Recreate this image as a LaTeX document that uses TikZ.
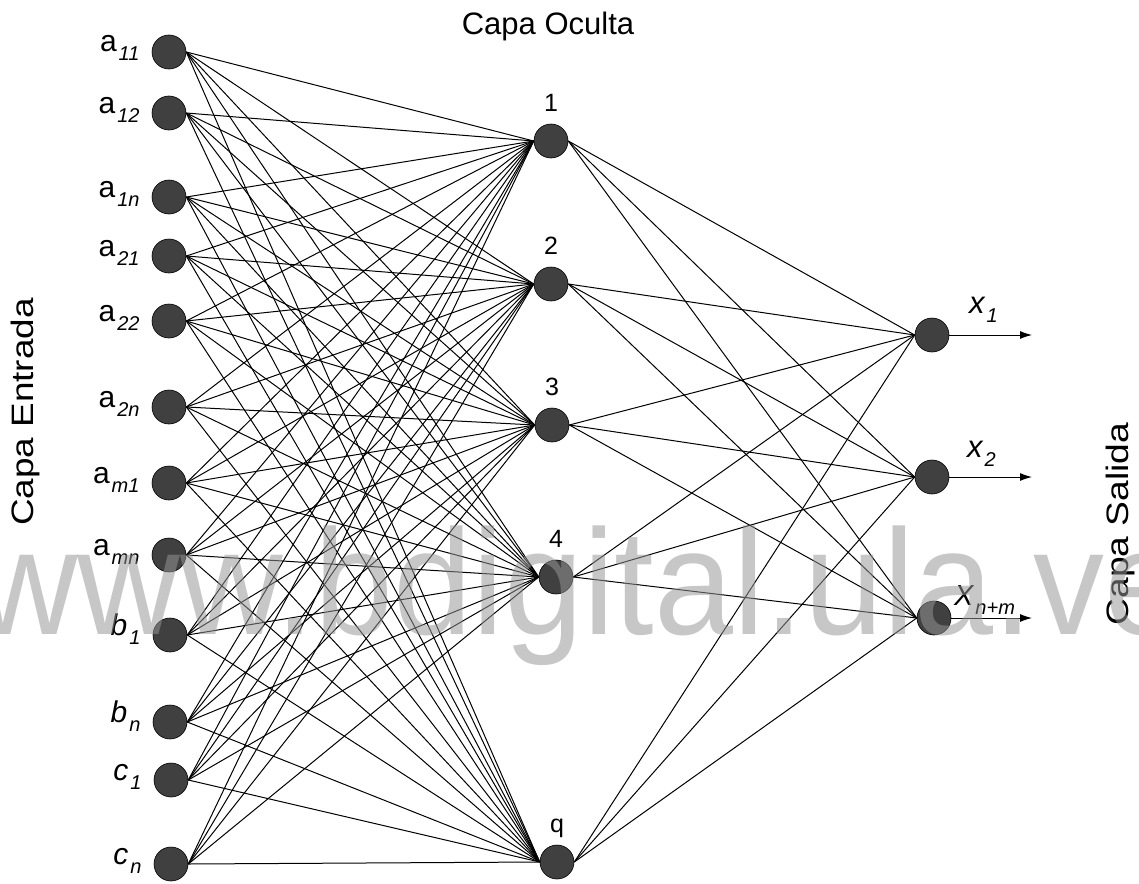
\documentclass[tikz,border=0pt]{standalone}
\usepackage{fontspec}
\setmainfont{Liberation Sans}
\usetikzlibrary{arrows.meta}
\definecolor{NeuronClr}{rgb}{0.25,0.25,0.25}
\definecolor{MarkClr}{rgb}{0.59,0.59,0.59}
\newcommand{\lsub}[1]{\kern2pt\raisebox{-9pt}{\fontsize{20}{20}\selectfont\itshape #1}}
\newcommand{\osub}[1]{\kern1pt\raisebox{-9pt}{\fontsize{20}{20}\selectfont\itshape #1}}

\begin{document}
\begin{tikzpicture}[x=1pt,y=-1pt,
  neuron/.style={circle,fill=NeuronClr,draw=black,line width=0.6pt,minimum size=34pt,inner sep=0pt},
  inlabel/.style={label={[anchor=base east,label distance=12pt,inner sep=0pt,font=\fontsize{30}{34}\selectfont]west:#1}},
  hidlabel/.style={label={[anchor=base,label distance=12pt,inner sep=0pt,font=\fontsize{25}{30}\selectfont]north:#1}},
  edge/.style={line width=1pt,black},
  outarrow/.style={line width=1pt,-{Latex[length=12pt,width=8pt]}},
  layertitle/.style={font=\fontsize{31}{36}\selectfont,anchor=base}]
\useasboundingbox (0,0) rectangle (1139,883);

% capa de entrada
\node[neuron,inlabel={a\lsub{11}}] (a11) at (169,52) {};
\node[neuron,inlabel={a\lsub{12}}] (a12) at (169,113) {};
\node[neuron,inlabel={a\lsub{1n}}] (a1n) at (169,197) {};
\node[neuron,inlabel={a\lsub{21}}] (a21) at (169,256) {};
\node[neuron,inlabel={a\lsub{22}}] (a22) at (169,321) {};
\node[neuron,inlabel={a\lsub{2n}}] (a2n) at (169,407) {};
\node[neuron,inlabel={a\lsub{m1}}] (am1) at (169,483) {};
\node[neuron,inlabel={a\lsub{mn}}] (amn) at (169,555) {};
\node[neuron,inlabel={\textit{b}\lsub{1}}] (b1) at (170,635) {};
\node[neuron,inlabel={\textit{b}\lsub{n}}] (bn) at (170,722) {};
\node[neuron,inlabel={\textit{c}\lsub{1}}] (c1) at (171,780) {};
\node[neuron,inlabel={\textit{c}\lsub{n}}] (cn) at (171,864) {};

% capa oculta
\node[neuron,hidlabel=1] (h1) at (551,141) {};
\node[neuron,hidlabel=2] (h2) at (551,284) {};
\node[neuron,hidlabel=3] (h3) at (552,425) {};
\node[neuron,hidlabel=4] (h4) at (556,577) {};
\node[neuron,hidlabel=q] (hq) at (557,862) {};

% capa de salida
\node[neuron] (o1) at (932,335) {};
\node[neuron] (o2) at (932,477) {};
\node[neuron] (o3) at (934,618) {};
\coordinate (e1) at (1032,335);
\coordinate (e2) at (1032,477);
\coordinate (e3) at (1032,618);

\foreach \i in {a11,a12,a1n,a21,a22,a2n,am1,amn,b1,bn,c1,cn}
  \foreach \j in {h1,h2,h3,h4,hq}
    \draw[edge] (\i.east) -- (\j.west);
\foreach \j in {h1,h2,h3,h4,hq}
  \foreach \k in {o1,o2,o3}
    \draw[edge] (\j.east) -- (\k.west);

\draw[outarrow] (o1.east) -- (e1);
\draw[outarrow] (o2.east) -- (e2);
\draw[outarrow] (o3.east) -- (e3);

\node[anchor=base west,inner sep=0pt,font=\fontsize{31}{34}\selectfont] (x1) at (969,313) {\textit{x}\osub{1}};
\node[anchor=base west,inner sep=0pt,font=\fontsize{31}{34}\selectfont] (x2) at (967,457) {\textit{x}\osub{2}};
\node[anchor=base west,inner sep=0pt,font=\fontsize{29}{34}\selectfont] (xnm) at (954,605) {\textit{X}\osub{n+m}};

% titulos
\node[layertitle] (oculta) at (548,35) {Capa Oculta};
\node[layertitle,rotate=90] (entrada) at (33,412) {\scalebox{1.19}[1]{Capa Entrada}};
\node[layertitle,rotate=90] (salida) at (1128,524) {\scalebox{1.2}[1]{Capa Salida}};

% marca de agua
\node[anchor=base west,text=MarkClr,text opacity=0.53,inner sep=0pt] (marca) at (-25,634)
  {\fontsize{150}{150}\selectfont\scalebox{0.947}[1]{www.bdigital.ula.ve}};

\end{tikzpicture}
\end{document}
